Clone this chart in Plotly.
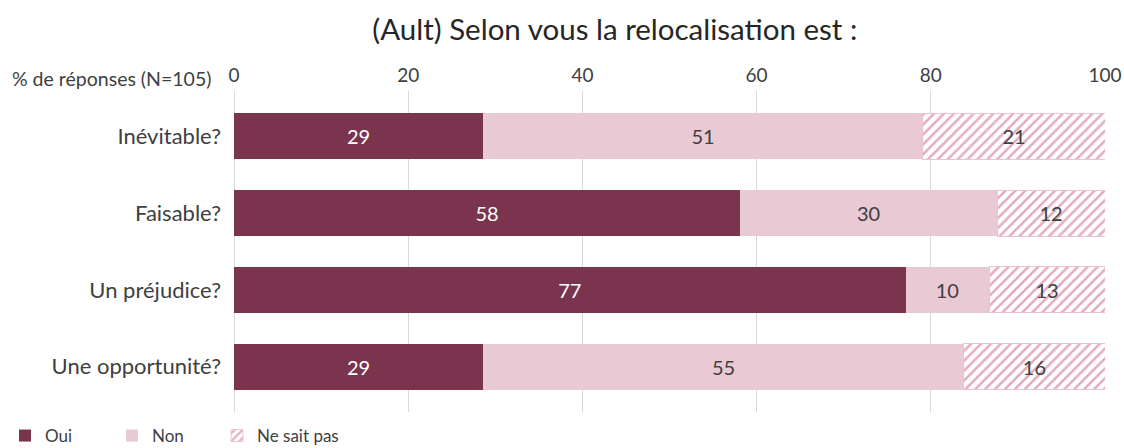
import plotly.graph_objects as go

categories = ["Inévitable?", "Faisable?", "Un préjudice?", "Une opportunité?"]
oui = [28.6, 58.1, 77.1, 28.6]
non = [50.5, 29.5, 9.6, 55.2]
nsp = [20.9, 12.4, 13.3, 16.2]
oui_labels = ["29", "58", "77", "29"]
non_labels = ["51", "30", "10", "55"]
nsp_labels = ["21", "12", "13", "16"]
tick_vals = [0, 20, 40, 60, 80, 100]

FONT = "Lato"
W, H = 1124, 448
L, R, T, B = 234, 19, 91, 36
pw = W - L - R
ph = H - T - B

def cx(p):
    return p / W

def cy(p):
    return 1 - p / H

fig = go.Figure()
fig.add_trace(go.Bar(
    y=categories, x=oui, orientation="h", name="Oui",
    marker=dict(color="#7B344D", line=dict(width=0)),
    text=oui_labels, textposition="inside", insidetextanchor="middle",
    textfont=dict(color="white", size=20, family=FONT),
    legend="legend4", showlegend=True,
))
fig.add_trace(go.Bar(
    y=categories, x=non, orientation="h", name="Non",
    marker=dict(color="#E9C9D4", line=dict(width=0)),
    text=non_labels, textposition="inside", insidetextanchor="middle",
    textfont=dict(color="#404040", size=20, family=FONT),
    legend="legend2", showlegend=True,
))
fig.add_trace(go.Bar(
    y=categories, x=nsp, orientation="h", name="Ne sait pas",
    marker=dict(color="white", line=dict(width=1, color="#EBC3D0"),
                pattern=dict(shape="/", fgcolor="#E4A9BD", bgcolor="white",
                             size=7, solidity=0.35, fillmode="replace")),
    text=nsp_labels, textposition="inside", insidetextanchor="middle",
    textfont=dict(color="#404040", size=20, family=FONT),
    legend="legend3", showlegend=True,
))

leg_common = dict(orientation="h", yanchor="middle", xanchor="left",
                  xref="container", yref="container",
                  font=dict(size=17, family=FONT, color="#404040"),
                  bgcolor="rgba(0,0,0,0)")

fig.update_layout(
    width=W, height=H, showlegend=True,
    barmode="stack", bargap=0.4,
    plot_bgcolor="white", paper_bgcolor="white",
    margin=dict(l=L, r=R, t=T, b=B, autoexpand=False),
    font=dict(family=FONT, color="#404040"),
    title=dict(text="(Ault) Selon vous la relocalisation est :",
               x=0.547, xanchor="center", y=1 - 30 / H, yanchor="middle",
               font=dict(size=29.5, family=FONT, color="#262626")),
    xaxis=dict(side="top", range=[0, 100], tickvals=tick_vals,
               showgrid=True, gridcolor="#D9D9D9", gridwidth=1,
               zeroline=True, zerolinecolor="#D9D9D9", zerolinewidth=1,
               showline=False,
               ticks="", ticklabelstandoff=4,
               tickfont=dict(size=19, family=FONT, color="#404040")),
    yaxis=dict(range=[3.59, -0.59], showgrid=False, showline=False,
               ticks="", ticklabelstandoff=12,
               tickfont=dict(size=22, family=FONT, color="#404040")),
    legend4=dict(x=cx(5), y=cy(436), **leg_common),
    legend2=dict(x=cx(112), y=cy(436), **leg_common),
    legend3=dict(x=cx(217), y=cy(436), **leg_common),
    annotations=[dict(text="% de réponses (N=105)", xref="paper", yref="paper",
                      x=(10 - L) / pw, y=(H - B - 78) / ph,
                      xanchor="left", yanchor="middle",
                      showarrow=False,
                      font=dict(size=19.5, family=FONT, color="#404040"))],
)

fig.write_html("out.html", config={"displayModeBar": False},
               post_script="document.body.style.margin='0';document.body.style.overflow='hidden';")
